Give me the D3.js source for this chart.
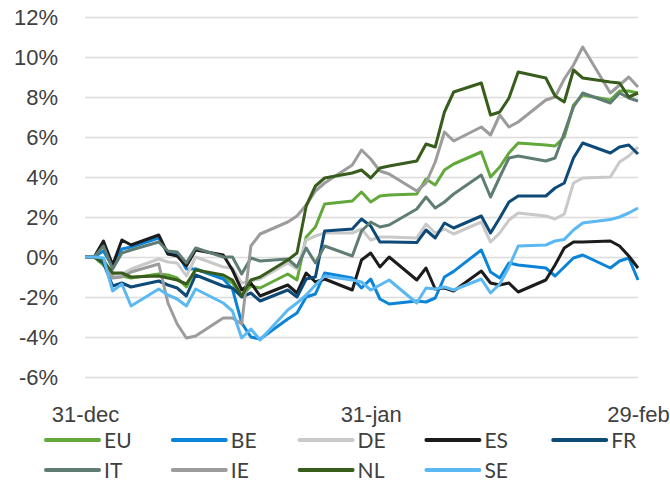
<!DOCTYPE html>
<html>
<head>
<meta charset="utf-8">
<script src="https://cdn.jsdelivr.net/npm/d3@7"></script>
<style>
  body { margin: 0; background: #fff; }
  svg { display: block; font-family: Lato, "Open Sans", sans-serif; }
</style>
</head>
<body>
<div id="viz"></div>
<script>
// trading days, 31 dec -> 29 feb
const dates = [
  "2023-12-31", "2024-01-01", "2024-01-02", "2024-01-03", "2024-01-04", "2024-01-05",
  "2024-01-08", "2024-01-09", "2024-01-10", "2024-01-11", "2024-01-12",
  "2024-01-15", "2024-01-16", "2024-01-17", "2024-01-18", "2024-01-19",
  "2024-01-22", "2024-01-23", "2024-01-24", "2024-01-25", "2024-01-26",
  "2024-01-29", "2024-01-30", "2024-01-31", "2024-02-01", "2024-02-02",
  "2024-02-05", "2024-02-06", "2024-02-07", "2024-02-08", "2024-02-09",
  "2024-02-12", "2024-02-13", "2024-02-14", "2024-02-15", "2024-02-16",
  "2024-02-19", "2024-02-20", "2024-02-21", "2024-02-22", "2024-02-23",
  "2024-02-26", "2024-02-27", "2024-02-28", "2024-02-29"
];

const EU = [0, 0, -0.4, -0.9, -0.95, -1.05, -0.85, -0.9, -1.05, -1.5, -0.6, -1.05, -1.3, -1.95, -1.45, -1.55,
  -0.85, -1.15, 1.0, 1.5, 2.65, 2.8, 3.25, 2.75, 3.05, 3.1, 3.15, 3.9, 3.6, 4.35, 4.65,
  5.25, 4.0, 4.5, 5.2, 5.7, 5.6, 5.55, 6.0, 7.6, 8.1, 7.85, 8.3, 8.3, 8.2];
const BE = [0, 0, 0.3, -0.5, 0.4, 0.5, 0.95, 0.15, 0.2, -0.6, -0.6, -1.1, -1.6, -3.3, -4.0, -4.1,
  -3.1, -2.8, -2.0, -1.85, -0.8, -1.05, -1.55, -1.1, -2.1, -2.35, -2.2, -2.25, -2.05, -1.0, -0.72,
  0.35, -0.75, -1.05, -0.3, -0.4, -0.55, -0.95, -0.5, -0.05, 0.1, -0.55, -0.2, -0.05, -1.15];
const DE = [0, 0, -0.2, -1.0, -0.85, -0.6, -0.1, -0.25, -0.3, -0.95, 0.0, -0.5, -0.55, -1.3, -1.2, -1.1,
  -0.3, -0.6, 0.85, 1.05, 1.2, 1.2, 1.4, 0.85, 1.0, 1.0, 0.95, 1.65, 1.2, 1.4, 1.15,
  1.75, 0.75, 1.2, 1.85, 2.2, 2.05, 1.9, 2.15, 3.7, 3.95, 4.0, 4.75, 5.05, 5.5];
const ES = [0, 0, 0.8, -0.4, 0.85, 0.6, 1.1, 0.15, 0.05, -0.45, 0.35, 0.1, -0.65, -1.65, -1.3, -1.95,
  -1.4, -1.8, -0.8, -1.25, -1.1, -1.65, -0.15, 0.2, -0.5, 0.0, -1.15, -0.55, -1.6, -1.55, -1.7,
  -0.7, -1.3, -1.4, -1.3, -1.75, -1.15, -0.4, 0.45, 0.75, 0.75, 0.8, 0.55, 0.05, -0.55];
const FR = [0, 0, -0.3, -1.45, -1.3, -1.5, -1.2, -1.4, -1.55, -1.95, -0.9, -1.45, -1.55, -2.0, -1.8, -2.2,
  -1.65, -2.0, -1.1, -1.0, 1.3, 1.4, 1.9, 1.55, 0.75, 0.75, 0.72, 1.35, 0.95, 1.7, 1.45,
  2.05, 1.2, 1.95, 2.75, 3.05, 3.05, 3.45, 3.7, 4.95, 5.7, 5.2, 5.5, 5.6, 5.15];
const IT = [0, 0, 0.55, -0.6, 0.2, 0.35, 0.75, 0.3, 0.25, -0.3, 0.45, 0.0, 0.0, -0.85, -0.05, -0.2,
  -0.1, -0.5, 0.45, -0.3, 0.55, 0.05, 1.3, 1.75, 1.5, 1.6, 2.4, 3.0, 2.45, 2.75, 3.15,
  4.1, 3.0, 4.0, 4.95, 5.05, 4.8, 4.95, 6.2, 7.5, 8.2, 7.7, 8.2, 7.95, 7.8];
const IE = [0, 0, -0.1, -1.05, -1.0, -0.75, -0.35, -2.3, -3.35, -4.05, -3.95, -3.05, -3.05, -3.35, 0.55, 1.15,
  1.75, 2.05, 2.6, 3.3, 3.7, 4.6, 5.35, 4.9, 4.3, 4.15, 3.3, 3.7, 4.75, 6.25, 5.8,
  6.5, 6.1, 7.1, 6.5, 6.75, 7.85, 8.0, 8.9, 9.6, 10.5, 8.2, 8.6, 9.0, 8.5];
const NL = [0, 0, -0.2, -0.8, -0.8, -1.0, -0.95, -1.05, -1.15, -1.35, -0.65, -0.9, -1.15, -1.95, -1.15, -1.0,
  -0.15, 0.2, 2.55, 3.55, 3.95, 4.2, 4.35, 3.95, 4.45, 4.55, 4.8, 5.65, 5.5, 7.25, 8.25,
  8.7, 7.1, 7.25, 7.95, 9.25, 8.95, 8.05, 7.75, 9.35, 8.95, 8.75, 8.7, 8.0, 8.2];
const SE = [0, 0, -0.05, -1.7, -1.35, -2.45, -1.6, -1.9, -2.1, -2.45, -1.6, -2.3, -2.7, -4.05, -3.6, -4.15,
  -2.65, -2.3, -1.9, -1.4, -0.95, -1.15, -1.25, -1.65, -1.4, -1.15, -2.3, -1.55, -1.6, -1.5, -1.65,
  -1.1, -1.8, -1.35, -0.5, 0.55, 0.6, 0.8, 0.88, 1.35, 1.7, 1.87, 2.0, 2.2, 2.45];

const seriesNames = ["EU", "BE", "DE", "ES", "FR", "IT", "IE", "NL", "SE"];
const seriesValues = [EU, BE, DE, ES, FR, IT, IE, NL, SE];

const yTicks = [-6, -4, -2, 0, 2, 4, 6, 8, 10, 12];
const xTickDates = ["2023-12-31", "2024-01-31", "2024-02-29"];
const xTickLabels = ["31-dec", "31-jan", "29-feb"];

const colors = {
  EU: "#62a83a", BE: "#0b84d8", DE: "#c9c9c9", ES: "#1c1c1c", FR: "#0e4a78",
  IT: "#5f7d74", IE: "#9c9c9c", NL: "#385c1c", SE: "#5cb8f2"
};

const width = 670, height = 483;
const margin = { left: 85, right: 32, top: 17, bottom: 106 };

const parse = d3.timeParse("%Y-%m-%d");
const svg = d3.select("#viz").append("svg")
  .attr("width", width)
  .attr("height", height);

const x = d3.scaleTime()
  .domain([parse(dates[0]), parse(dates[dates.length - 1])])
  .range([margin.left, width - margin.right]);
const y = d3.scaleLinear()
  .domain([-6, 12])
  .range([height - margin.bottom, margin.top]);

// gridlines + y labels
const yAxis = svg.append("g")
  .attr("transform", `translate(${margin.left},0)`)
  .call(d3.axisLeft(y)
    .tickValues(yTicks)
    .tickSize(-(width - margin.left - margin.right))
    .tickPadding(27)
    .tickFormat(d => d + "%"));
yAxis.select(".domain").remove();
yAxis.selectAll(".tick line").attr("stroke", "#dcdcdc").attr("stroke-width", 1.3);
yAxis.selectAll(".tick text")
  .attr("fill", "#404040")
  .attr("font-size", "22px")
  .attr("dy", "0.36em");

// x labels
const xAxis = svg.append("g")
  .attr("transform", `translate(0,${height - margin.bottom})`)
  .call(d3.axisBottom(x)
    .tickValues(xTickDates.map(parse))
    .tickSize(0)
    .tickFormat((d, i) => xTickLabels[i]));
xAxis.select(".domain").remove();
xAxis.selectAll(".tick text")
  .attr("fill", "#404040")
  .attr("font-size", "22px")
  .attr("y", 45)
  .attr("dy", 0);

// lines
const line = d3.line()
  .x((d, i) => x(parse(dates[i])))
  .y(d => y(d));

seriesNames.forEach((name, k) => {
  svg.append("path")
    .datum(seriesValues[k])
    .attr("fill", "none")
    .attr("stroke", colors[name])
    .attr("stroke-width", 3)
    .attr("stroke-linejoin", "round")
    .attr("d", line);
});

// legend
const legend = svg.append("g");
seriesNames.forEach((name, k) => {
  const col = k % 5, row = Math.floor(k / 5);
  const g = legend.append("g")
    .attr("transform", `translate(${46 + col * 126.8},${440 + row * 30})`);
  g.append("line")
    .attr("x1", 0).attr("x2", 53)
    .attr("stroke", colors[name])
    .attr("stroke-width", 4)
    .attr("stroke-linecap", "round");
  g.append("text")
    .attr("x", 58)
    .attr("dy", "0.36em")
    .attr("fill", "#404040")
    .attr("font-size", "21px")
    .text(name);
});
</script>
</body>
</html>
